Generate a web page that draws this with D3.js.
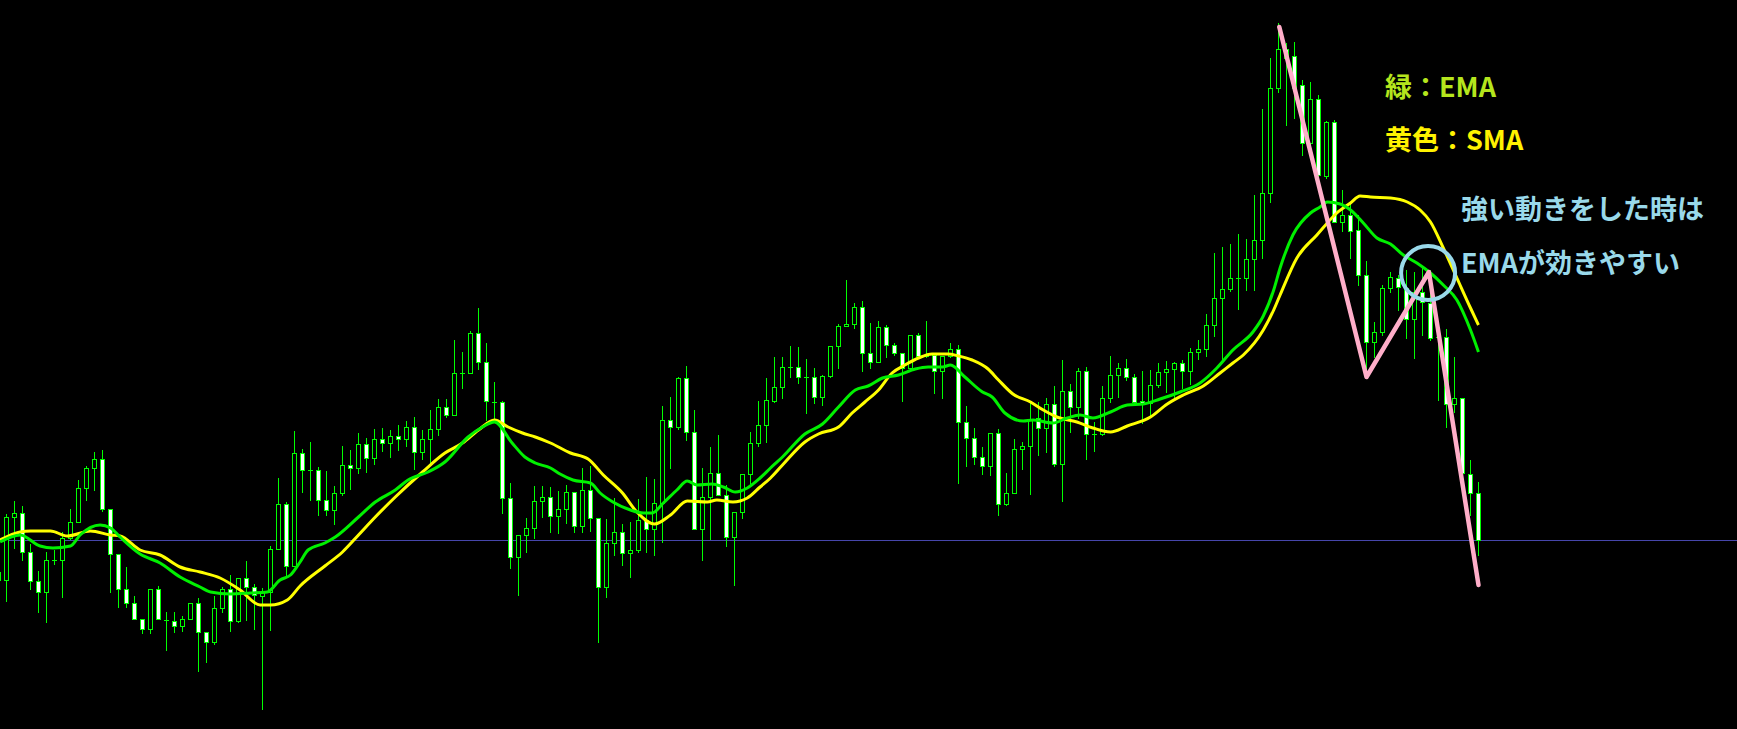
<!DOCTYPE html>
<html><head><meta charset="utf-8">
<script src="https://cdn.jsdelivr.net/npm/d3@7"></script>
<style>
html,body{margin:0;padding:0;background:#000;overflow:hidden}
svg{display:block}
</style></head>
<body>
<svg id="chart" width="1737" height="729"></svg>
<script>
// ---- Data (prices) ----
const openP = [
104.28,104.20,104.83,104.87,104.48,104.19,104.08,104.40,104.40,104.62,
104.78,105.12,105.32,105.41,104.91,104.46,104.11,103.97,103.81,103.71,
104.11,103.80,103.79,103.74,103.81,103.97,103.68,103.58,103.92,104.11,
103.79,104.22,104.13,104.04,104.08,104.51,104.96,104.34,105.47,105.30,
105.30,105.00,104.90,105.07,105.35,105.32,105.56,105.42,105.61,105.57,
105.64,105.61,105.73,105.48,105.61,105.71,105.93,105.85,106.27,106.27,
106.67,106.38,105.98,105.98,105.02,104.43,104.65,104.72,104.99,105.03,
104.84,104.91,105.08,104.74,105.10,104.82,104.13,104.57,104.68,104.47,
104.50,104.80,104.71,104.97,105.80,105.73,106.22,105.68,104.71,105.03,
105.27,105.05,104.63,104.88,105.26,105.57,105.75,105.99,106.13,106.33,
106.33,106.23,106.23,106.03,106.24,106.54,106.74,106.76,106.93,106.47,
106.38,106.73,106.55,106.47,106.32,106.65,106.44,106.45,106.29,106.44,
106.51,105.78,105.62,105.43,105.34,105.67,104.96,105.07,105.51,105.54,
105.82,105.72,105.96,105.36,106.09,105.93,106.29,105.66,105.66,106.02,
106.25,106.32,106.23,105.99,105.97,106.15,106.28,106.31,106.37,106.29,
106.48,106.51,106.75,107.02,107.11,107.22,107.22,107.41,107.60,108.07,
109.12,109.51,109.44,109.15,108.57,109.01,108.24,108.78,107.78,107.85,
107.70,107.25,106.58,106.68,107.12,107.22,107.12,106.81,107.08,106.97,
106.63,106.63,105.96,106.02,105.26,105.07];
const highP = [
104.34,104.86,104.99,104.94,104.56,104.29,104.48,104.50,104.68,104.91,
105.20,105.34,105.48,105.50,104.91,104.46,104.33,104.04,103.81,104.11,
104.14,103.88,103.88,103.84,103.97,104.02,103.68,104.04,104.13,104.25,
104.22,104.39,104.16,104.12,104.54,105.22,104.98,105.69,105.51,105.58,
105.33,105.29,105.14,105.54,105.50,105.67,105.62,105.71,105.72,105.70,
105.75,105.79,105.83,105.70,105.90,106.01,106.01,106.60,106.48,106.69,
106.92,106.57,106.18,105.99,105.17,104.65,104.82,105.14,105.14,105.13,
105.09,105.15,105.08,105.32,105.34,104.82,104.81,105.02,104.76,104.78,
105.01,105.23,105.21,105.94,106.03,106.23,106.34,105.90,105.32,105.53,
105.65,105.15,104.88,105.26,105.68,105.99,106.22,106.43,106.43,106.54,
106.53,106.41,106.32,106.25,106.54,106.76,107.20,106.97,106.99,106.77,
106.79,106.75,106.57,106.47,106.65,106.67,106.79,106.45,106.44,106.57,
106.55,105.94,105.72,105.53,105.67,105.71,105.27,105.61,105.58,105.97,
105.98,106.02,106.14,106.40,106.16,106.32,106.33,105.78,106.14,106.44,
106.37,106.41,106.26,106.29,106.30,106.37,106.39,106.38,106.40,106.52,
106.60,106.86,107.47,107.53,107.56,107.66,107.61,108.05,108.91,109.42,
109.77,109.57,109.58,109.20,109.18,109.05,108.79,108.80,108.10,107.98,
107.85,107.39,106.78,107.15,107.28,107.25,107.30,107.28,107.33,107.30,
106.68,106.71,106.43,106.02,105.40,105.18];
const lowP = [
104.15,103.99,104.52,104.40,104.11,103.88,103.78,104.36,104.03,104.61,
104.78,105.00,105.10,104.89,104.08,103.93,103.93,103.81,103.67,103.67,
103.81,103.50,103.68,103.69,103.81,103.29,103.38,103.56,103.88,103.69,
103.78,103.80,103.71,102.91,103.70,104.51,104.24,104.34,105.08,105.00,
104.85,104.85,104.76,105.05,105.11,105.27,105.28,105.36,105.49,105.43,
105.50,105.54,105.31,105.41,105.37,105.65,105.83,105.85,106.12,106.27,
106.31,105.80,105.78,104.87,104.32,104.05,104.48,104.62,104.83,104.68,
104.67,104.77,104.68,104.68,104.69,103.58,104.03,104.45,104.35,104.23,
104.48,104.48,104.45,104.58,105.32,105.71,105.60,104.71,104.40,104.61,
105.05,104.54,104.15,104.82,105.17,105.54,105.58,105.98,106.02,106.23,
106.17,105.87,105.97,105.95,106.23,106.32,106.74,106.72,106.29,106.32,
106.38,106.43,106.45,105.99,106.30,106.43,106.43,106.07,106.02,106.43,
105.17,105.34,105.36,105.26,105.25,104.85,104.95,105.07,105.31,105.06,
105.45,105.48,105.34,104.99,105.68,105.82,105.41,105.49,105.65,105.98,
106.03,106.20,105.97,105.77,105.83,106.13,106.08,106.02,106.12,106.16,
106.41,106.44,106.64,106.38,107.09,106.91,107.10,107.10,107.42,107.98,
109.08,108.75,108.82,108.45,108.55,108.20,108.22,107.78,107.69,107.42,
107.15,106.30,106.43,106.65,107.08,106.90,106.62,106.42,106.65,106.60,
106.00,105.73,105.88,105.27,104.85,104.45];
const closeP = [
104.20,104.83,104.87,104.48,104.19,104.08,104.40,104.40,104.62,104.78,
105.12,105.32,105.41,104.91,104.46,104.11,103.97,103.81,103.71,104.11,
103.81,103.80,103.74,103.81,103.97,103.68,103.58,103.92,104.11,103.79,
104.22,104.13,104.05,104.08,104.51,104.96,104.34,105.47,105.30,105.30,
105.00,104.90,105.07,105.35,105.32,105.56,105.42,105.61,105.57,105.64,
105.61,105.73,105.48,105.61,105.71,105.93,105.85,106.27,106.27,106.67,
106.38,105.99,105.98,105.02,104.43,104.65,104.72,104.99,105.03,104.84,
104.91,105.08,104.74,105.10,104.82,104.13,104.57,104.68,104.47,104.50,
104.80,104.71,104.97,105.80,105.73,106.22,105.68,104.71,105.03,105.27,
105.05,104.63,104.88,105.26,105.57,105.75,106.00,106.13,106.33,106.33,
106.23,106.23,106.03,106.24,106.54,106.74,106.76,106.93,106.47,106.38,
106.73,106.55,106.47,106.32,106.65,106.44,106.45,106.29,106.44,106.51,
105.78,105.62,105.43,105.34,105.67,104.96,105.07,105.51,105.54,105.80,
105.72,105.96,105.36,106.09,105.93,106.29,105.66,105.66,106.02,106.25,
106.32,106.23,105.98,105.97,106.15,106.28,106.31,106.37,106.29,106.48,
106.51,106.75,107.02,107.11,107.22,107.22,107.41,107.60,108.07,109.12,
109.51,109.42,109.12,108.57,109.01,108.25,108.78,107.78,107.85,107.69,
107.25,106.58,106.68,107.12,107.23,107.13,106.81,107.08,106.98,106.62,
106.63,105.96,106.02,105.27,105.07,104.60];

// Moving averages, sampled as [bar index, price]
const smaPoints = [
[0.2,104.60],[2.7,104.68],[4.0,104.69],[6.5,104.69],[8.6,104.64],[11.5,104.69],[14.0,104.65],[15.2,104.64],
[17.7,104.50],[20.2,104.45],[22.7,104.33],[25.2,104.28],[27.7,104.22],[30.2,104.10],[32.7,103.95],[34.0,103.95],
[36.1,104.00],[37.7,104.14],[40.8,104.34],[43.0,104.48],[45.0,104.65],[47.1,104.83],[49.6,105.03],[53.0,105.28],
[55.8,105.47],[58.0,105.57],[60.0,105.70],[62.0,105.80],[63.7,105.73],[65.5,105.67],[67.1,105.63],[69.0,105.57],
[71.5,105.47],[73.7,105.41],[75.6,105.25],[78.0,105.07],[79.8,104.88],[82.0,104.76],[84.0,104.85],[86.1,104.99],
[88.6,104.98],[89.8,105.00],[91.8,104.98],[93.6,105.02],[95.2,105.13],[96.5,105.22],[98.0,105.35],[100.8,105.58],
[102.5,105.66],[105.0,105.73],[106.7,105.87],[108.3,105.98],[110.0,106.10],[111.7,106.27],[113.3,106.35],[115.0,106.42],
[116.7,106.46],[118.7,106.46],[120.0,106.44],[121.7,106.40],[123.7,106.31],[125.0,106.20],[126.8,106.06],[129.0,105.98],
[130.6,105.90],[132.3,105.83],[134.8,105.78],[136.8,105.72],[139.0,105.68],[141.1,105.74],[144.0,105.83],[146.1,105.96],
[148.1,106.05],[150.6,106.14],[152.7,106.27],[154.3,106.37],[155.6,106.45],[158.1,106.70],[159.4,106.90],[160.2,107.05],
[162.3,107.42],[164.8,107.65],[167.3,107.87],[169.0,107.97],[170.2,108.04],[171.5,108.03],[174.0,108.02],[176.1,107.98],
[177.7,107.90],[179.0,107.78],[180.6,107.52],[182.3,107.22],[184.0,106.92],[185.0,106.75]];
const emaPoints = [
[0.2,104.58],[2.7,104.65],[5.2,104.54],[6.8,104.52],[9.0,104.54],[10.2,104.65],[12.7,104.75],[14.0,104.72],
[15.2,104.63],[17.7,104.46],[20.2,104.37],[22.7,104.23],[25.2,104.13],[26.5,104.08],[29.0,104.06],[31.5,104.07],
[33.6,104.08],[35.2,104.20],[36.5,104.25],[37.7,104.38],[38.7,104.50],[40.8,104.57],[42.1,104.63],[45.0,104.83],
[47.1,104.98],[49.6,105.10],[51.2,105.20],[53.7,105.28],[55.8,105.38],[58.7,105.63],[60.5,105.73],[62.0,105.78],
[64.2,105.57],[65.8,105.43],[67.1,105.37],[69.0,105.32],[70.2,105.26],[71.8,105.20],[74.0,105.17],[75.2,105.07],
[76.8,104.98],[79.0,104.90],[80.6,104.87],[81.7,104.87],[83.1,104.97],[84.8,105.10],[86.1,105.19],[87.3,105.15],
[89.2,105.16],[90.6,105.13],[92.1,105.08],[93.6,105.12],[95.2,105.22],[96.5,105.32],[98.0,105.43],[100.8,105.66],
[103.0,105.76],[105.0,105.93],[107.1,106.10],[108.7,106.14],[110.5,106.22],[112.5,106.25],[114.6,106.31],[116.2,106.33],
[118.0,106.33],[119.0,106.35],[120.8,106.23],[123.0,106.08],[124.2,106.03],[125.8,105.87],[128.1,105.79],[129.3,105.80],
[131.8,105.77],[133.6,105.82],[135.2,105.85],[136.8,105.82],[139.0,105.88],[141.1,105.95],[143.1,105.96],[145.2,106.01],
[147.7,106.08],[150.2,106.17],[152.3,106.32],[154.3,106.50],[156.8,106.68],[158.1,106.84],[159.4,107.10],[160.2,107.32],
[161.8,107.65],[164.0,107.87],[165.2,107.93],[166.1,107.98],[167.7,107.96],[169.0,107.90],[170.6,107.77],[172.3,107.62],
[174.0,107.56],[175.6,107.45],[177.3,107.37],[179.0,107.27],[180.6,107.15],[182.3,107.00],[184.0,106.70],[185.0,106.48]];

const levelLine = 104.60;
const zigzag = [[160.1,109.73],[171.0,106.23],[178.8,107.28],[185.0,104.15]];
const circlePoint = [178.7,107.27];
const legendLines = ["緑：EMA", "黄色：SMA"];
const noteLines = ["強い動きをした時は", "EMAが効きやすい"];

// ---- Drawing ----
const W = 1737, H = 729;
const svg = d3.select("#chart");
svg.append("rect").attr("width", W).attr("height", H).attr("fill", "#000");

const x = d3.scaleLinear().domain([0, 185]).range([-1.5, 1478.5]);
const y = d3.scaleLinear().domain([102.71, 110]).range([H, 0]);

// horizontal level line
svg.append("line")
  .attr("x1", 0).attr("x2", W)
  .attr("y1", Math.round(y(levelLine)) + 0.5).attr("y2", Math.round(y(levelLine)) + 0.5)
  .attr("stroke", "#4646aa").attr("stroke-width", 1);

const bars = openP.map((o, i) => ({i, o, h: highP[i], l: lowP[i], c: closeP[i]}));
const g = svg.append("g").attr("shape-rendering", "crispEdges");
const px = v => Math.round(v);

g.selectAll("line.wick").data(bars).join("line")
  .attr("class", "wick")
  .attr("x1", d => x(d.i)).attr("x2", d => x(d.i))
  .attr("y1", d => px(y(d.h))).attr("y2", d => px(y(d.l)) + 1)
  .attr("stroke", "#00ff00").attr("stroke-width", 1);

g.selectAll("rect.body").data(bars.filter(d => d.o !== d.c)).join("rect")
  .attr("class", "body")
  .attr("x", d => x(d.i) - 2)
  .attr("width", 4)
  .attr("y", d => px(y(Math.max(d.o, d.c))) + 0.5)
  .attr("height", d => Math.max(1, px(y(Math.min(d.o, d.c))) - px(y(Math.max(d.o, d.c)))))
  .attr("fill", d => d.c > d.o ? "#000" : "#fff")
  .attr("stroke", "#00ff00").attr("stroke-width", 1);

g.selectAll("line.doji").data(bars.filter(d => d.o === d.c)).join("line")
  .attr("class", "doji")
  .attr("x1", d => x(d.i) - 2.5).attr("x2", d => x(d.i) + 2.5)
  .attr("y1", d => px(y(d.o)) + 0.5).attr("y2", d => px(y(d.o)) + 0.5)
  .attr("stroke", "#00ff00").attr("stroke-width", 1);

// moving averages
const line = d3.line().x(d => x(d[0])).y(d => y(d[1])).curve(d3.curveMonotoneX);
svg.append("path").attr("d", line(smaPoints)).attr("fill", "none")
  .attr("stroke", "#ffff00").attr("stroke-width", 3).attr("stroke-linejoin", "round");
svg.append("path").attr("d", line(emaPoints)).attr("fill", "none")
  .attr("stroke", "#00f000").attr("stroke-width", 3).attr("stroke-linejoin", "round");

// annotations
svg.append("path").attr("d", d3.line().x(d => x(d[0])).y(d => y(d[1]))(zigzag))
  .attr("fill", "none").attr("stroke", "#ffaec9").attr("stroke-width", 4.5)
  .attr("stroke-linejoin", "round").attr("stroke-linecap", "round");

svg.append("circle").attr("cx", x(circlePoint[0])).attr("cy", y(circlePoint[1])).attr("r", 27)
  .attr("fill", "none").attr("stroke", "#99d9ea").attr("stroke-width", 4);

const font = "'Noto Sans CJK JP', 'Noto Sans', sans-serif";
const legendColors = ["#b5e61d", "#fff200"];
svg.selectAll("text.legend").data(legendLines).join("text")
  .attr("class", "legend")
  .attr("x", 1385).attr("y", (d, i) => 97 + i * 53)
  .attr("fill", (d, i) => legendColors[i])
  .attr("font-family", font).attr("font-weight", 700).attr("font-size", 27)
  .text(d => d);
svg.selectAll("text.note").data(noteLines).join("text")
  .attr("class", "note")
  .attr("x", 1461).attr("y", (d, i) => 219 + i * 54)
  .attr("fill", "#99d9ea")
  .attr("font-family", font).attr("font-weight", 700).attr("font-size", 27)
  .text(d => d);
</script>
</body></html>
